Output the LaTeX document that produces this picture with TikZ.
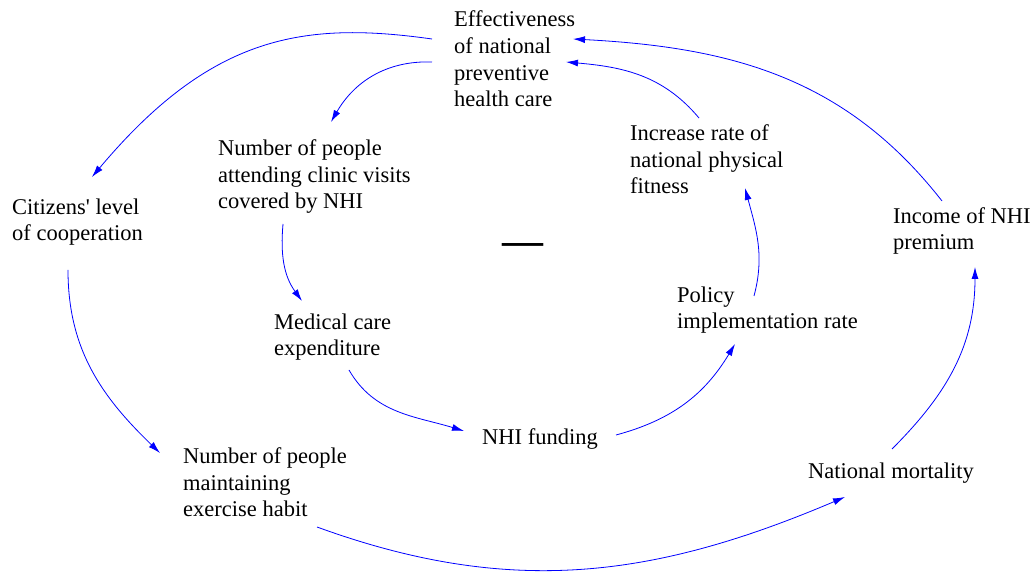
\documentclass[tikz,border=0pt]{standalone}
\usepackage{fontspec}
\setmainfont{Liberation Serif}
\usetikzlibrary{arrows.meta, positioning}

\begin{document}
\begin{tikzpicture}[x=1pt,y=1pt,
        var/.style={align=left, inner sep=0pt, anchor=base west,
                    font=\fontsize{22.5}{26.7}\selectfont},
        link/.style={blue, line width=0.8pt, -{Latex[length=12pt,width=7pt]}}]
        \useasboundingbox (0,0) rectangle (1034,573);

        % base west sits on the last line of each variable
        \node[var] (eff)  at (454,466) {Effectiveness\\of national\\preventive\\health care};
        \node[var] (att)  at (218,364) {Number of people\\attending clinic visits\\covered by NHI};
        \node[var] (cit)  at (12,332)  {Citizens\textquotesingle\ level\\of cooperation};
        \node[var] (inc)  at (630,379) {Increase rate of\\national physical\\fitness};
        \node[var] (prem) at (893,323) {Income of NHI\\premium};
        \node[var] (pol)  at (677,244) {Policy\\implementation rate};
        \node[var] (med)  at (274,217) {Medical care\\expenditure};
        \node[var] (fund) at (482,128) {NHI funding};
        \node[var] (hab)  at (183,56)  {Number of people\\maintaining\\exercise habit};
        \node[var] (mort) at (808,94)  {National mortality};
        \node[font=\fontsize{41}{41}\selectfont\bfseries, inner sep=0pt] (sign) at (523,324) {—};

        \path[link]
        ([shift={(-22,68)}]eff.base west)  edge[out=172,in=50,out looseness=0.9,in looseness=1.3] ([shift={(80,64)}]cit.base west)
        ([shift={(-22,45)}]eff.base west)  edge[out=178,in=60] ([shift={(113,87)}]att.base west)
        ([shift={(65,-15)}]att.base west)  edge[out=265,in=126] ([shift={(28,55)}]med.base west)
        ([shift={(75,-14)}]med.base west)  edge[out=-60,in=163] ([shift={(-18,14)}]fund.base west)
        ([shift={(134,10)}]fund.base west) edge[out=15,in=239] ([shift={(58,-15)}]pol.base west)
        ([shift={(77,33)}]pol.base west)   edge[out=75,in=285] ([shift={(115,6)}]inc.base west)
        ([shift={(69,76)}]inc.base west)   edge[out=130,in=-5] ([shift={(112,45)}]eff.base west)
        ([shift={(56,-29)}]cit.base west)  edge[out=270,in=136] ([shift={(-23,64)}]hab.base west)
        ([shift={(134,-10)}]hab.base west) edge[out=-20,in=203] ([shift={(37,-18)}]mort.base west)
        ([shift={(84,30)}]mort.base west)  edge[out=45,in=270] ([shift={(82,-17)}]prem.base west)
        ([shift={(49,49)}]prem.base west)  edge[out=128,in=-3] ([shift={(119,68)}]eff.base west)
        ;
    \end{tikzpicture}
\end{document}
